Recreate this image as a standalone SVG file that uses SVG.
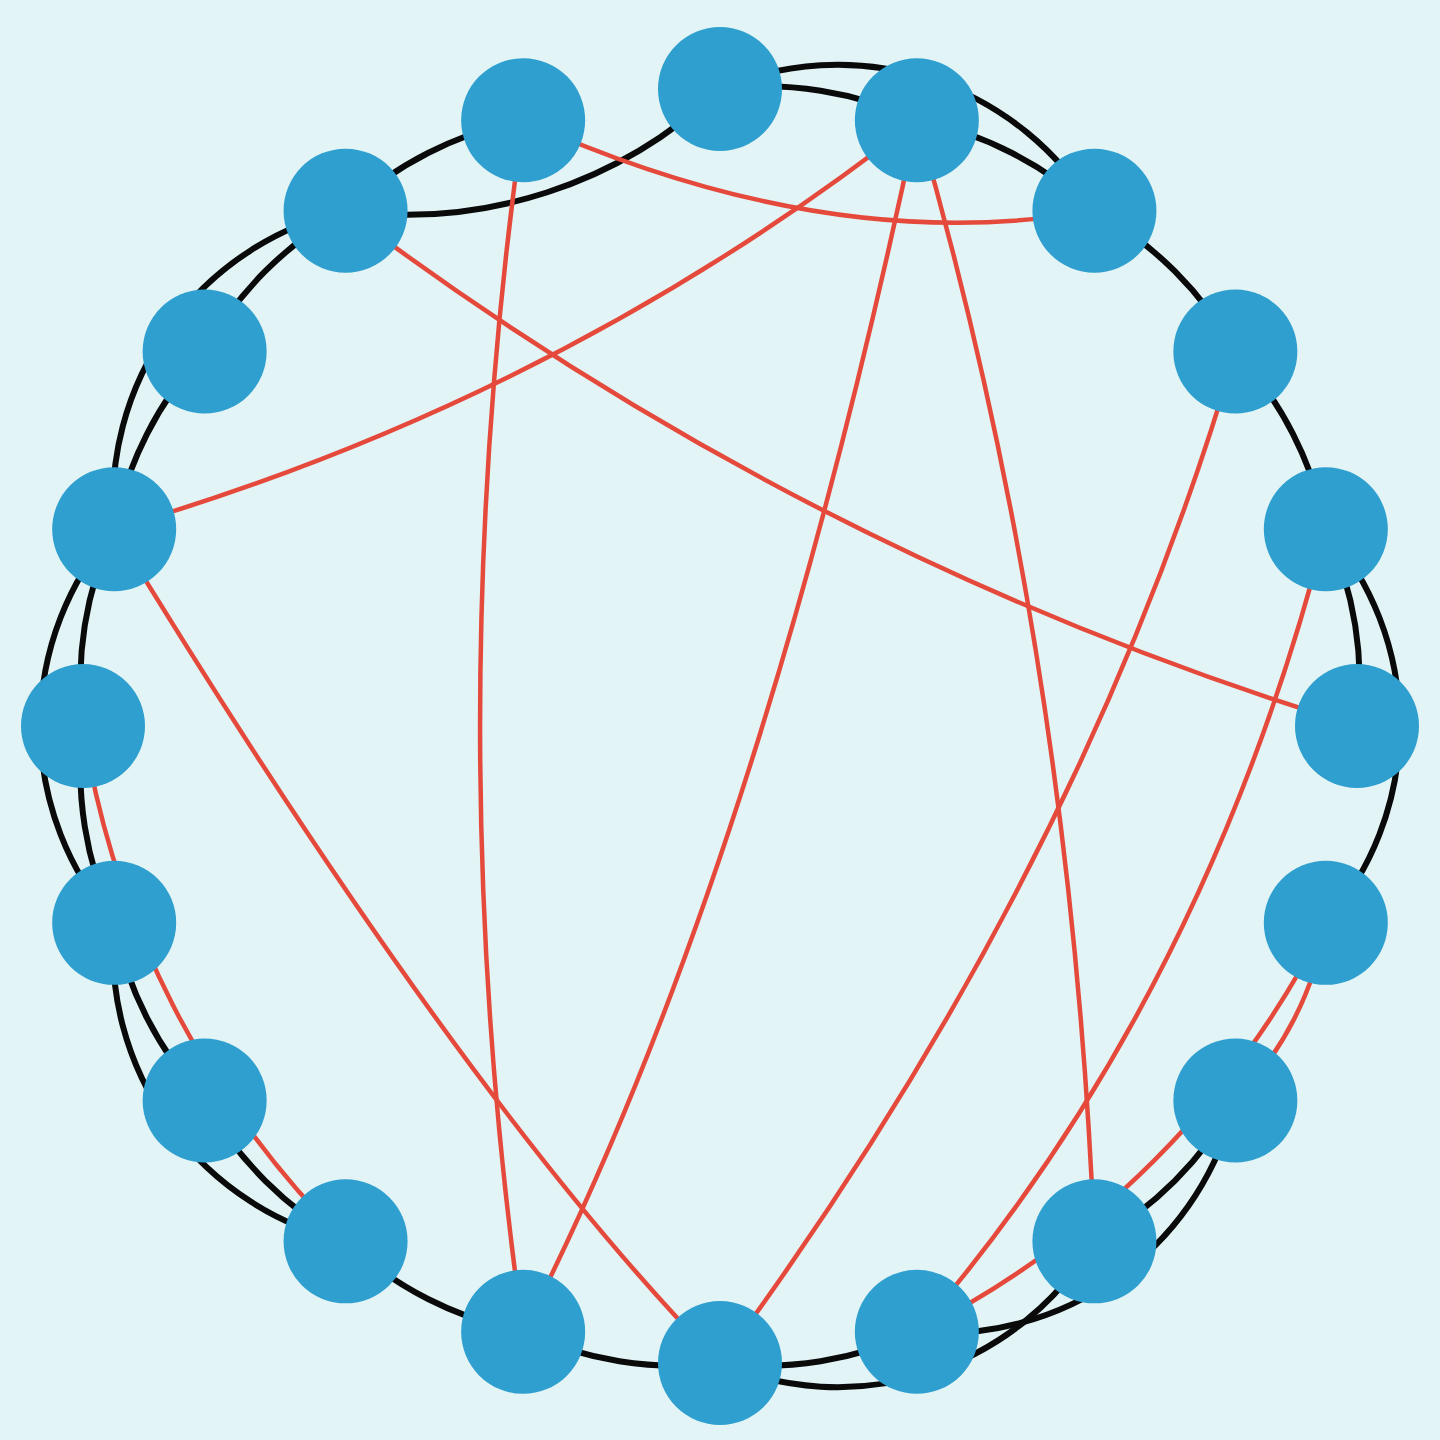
<svg xmlns="http://www.w3.org/2000/svg" width="1440" height="1440" viewBox="0 0 1440 1440">
  <style>
    .blk { fill: none; stroke: #0a0a0a; stroke-width: 6; stroke-linecap: round; }
    .red { fill: none; stroke: #e5493b; stroke-width: 4.5; stroke-linecap: round; }
    .node { fill: #2e9fcf; }
  </style>
  <rect x="0" y="0" width="1440" height="1440" fill="#e2f4f5"/>
  <g id="connectors">
    <g id="black-edges">
      <path class="blk" d="M720 89 A362 362 0 0 1 916.85 120.18"/>
      <path class="blk" d="M916.85 120.18 A362 362 0 0 1 1094.42 210.65"/>
      <path class="blk" d="M1094.42 210.65 A362 362 0 0 1 1235.35 351.58"/>
      <path class="blk" d="M1235.35 351.58 A362 362 0 0 1 1325.82 529.15"/>
      <path class="blk" d="M1325.82 529.15 A362 362 0 0 1 1357 726"/>
      <path class="blk" d="M1235.35 1100.42 A362 362 0 0 1 1094.42 1241.35"/>
      <path class="blk" d="M916.85 1331.82 A362 362 0 0 1 720 1363"/>
      <path class="blk" d="M720 1363 A362 362 0 0 1 523.15 1331.82"/>
      <path class="blk" d="M523.15 1331.82 A362 362 0 0 1 345.58 1241.35"/>
      <path class="blk" d="M345.58 1241.35 A362 362 0 0 1 204.65 1100.42"/>
      <path class="blk" d="M204.65 1100.42 A362 362 0 0 1 114.18 922.85"/>
      <path class="blk" d="M114.18 922.85 A362 362 0 0 1 83 726"/>
      <path class="blk" d="M83 726 A362 362 0 0 1 114.18 529.15"/>
      <path class="blk" d="M114.18 529.15 A362 362 0 0 1 204.65 351.58"/>
      <path class="blk" d="M204.65 351.58 A362 362 0 0 1 345.58 210.65"/>
      <path class="blk" d="M345.58 210.65 A362 362 0 0 1 523.15 120.18"/>
      <path class="blk" d="M720 89 A299 299 0 0 1 1094.42 210.65"/>
      <path class="blk" d="M1325.82 529.15 A299 299 0 0 1 1325.82 922.85"/>
      <path class="blk" d="M1235.35 1100.42 A299 299 0 0 1 916.85 1331.82"/>
      <path class="blk" d="M1094.42 1241.35 A299 299 0 0 1 720 1363"/>
      <path class="blk" d="M345.58 1241.35 A299 299 0 0 1 114.18 922.85"/>
      <path class="blk" d="M114.18 922.85 A299 299 0 0 1 114.18 529.15"/>
      <path class="blk" d="M114.18 529.15 A299 299 0 0 1 345.58 210.65"/>
      <path class="blk" d="M345.58 210.65 A454 454 0 0 0 720 89"/>
    </g>
    <g id="red-edges">
      <path class="red" d="M523.15 120.18 Q830 258 1094.42 210.65"/>
      <path class="red" d="M916.85 120.18 Q560 400 114.18 529.15"/>
      <path class="red" d="M523.15 120.18 Q437 726 523.15 1331.82"/>
      <path class="red" d="M345.58 210.65 Q806 558 1357 726"/>
      <path class="red" d="M916.85 120.18 Q759 871 523.15 1331.82"/>
      <path class="red" d="M916.85 120.18 Q1071 652 1094.42 1241.35"/>
      <path class="red" d="M1235.35 351.58 Q1083 872 720 1363"/>
      <path class="red" d="M1325.82 529.15 Q1205 1000 916.85 1331.82"/>
      <path class="red" d="M114.18 529.15 Q462 1100 720 1363"/>
      <path class="red" d="M345.58 1241.35 A920 920 0 0 1 83 726"/>
      <path class="red" d="M1325.82 922.85 A920 920 0 0 1 916.85 1331.82"/>
      <path class="red" d="M1325.82 922.85 A330 330 0 0 1 1235.35 1100.42"/>
    </g>
  </g>
  <g id="nodes">
    <g id="n0"><circle class="node" cx="720" cy="89" r="62"/></g>
    <g id="n1"><circle class="node" cx="916.85" cy="120.18" r="62"/></g>
    <g id="n2"><circle class="node" cx="1094.42" cy="210.65" r="62"/></g>
    <g id="n3"><circle class="node" cx="1235.35" cy="351.58" r="62"/></g>
    <g id="n4"><circle class="node" cx="1325.82" cy="529.15" r="62"/></g>
    <g id="n5"><circle class="node" cx="1357" cy="726" r="62"/></g>
    <g id="n6"><circle class="node" cx="1325.82" cy="922.85" r="62"/></g>
    <g id="n7"><circle class="node" cx="1235.35" cy="1100.42" r="62"/></g>
    <g id="n8"><circle class="node" cx="1094.42" cy="1241.35" r="62"/></g>
    <g id="n9"><circle class="node" cx="916.85" cy="1331.82" r="62"/></g>
    <g id="n10"><circle class="node" cx="720" cy="1363" r="62"/></g>
    <g id="n11"><circle class="node" cx="523.15" cy="1331.82" r="62"/></g>
    <g id="n12"><circle class="node" cx="345.58" cy="1241.35" r="62"/></g>
    <g id="n13"><circle class="node" cx="204.65" cy="1100.42" r="62"/></g>
    <g id="n14"><circle class="node" cx="114.18" cy="922.85" r="62"/></g>
    <g id="n15"><circle class="node" cx="83" cy="726" r="62"/></g>
    <g id="n16"><circle class="node" cx="114.18" cy="529.15" r="62"/></g>
    <g id="n17"><circle class="node" cx="204.65" cy="351.58" r="62"/></g>
    <g id="n18"><circle class="node" cx="345.58" cy="210.65" r="62"/></g>
    <g id="n19"><circle class="node" cx="523.15" cy="120.18" r="62"/></g>
  </g>
</svg>
